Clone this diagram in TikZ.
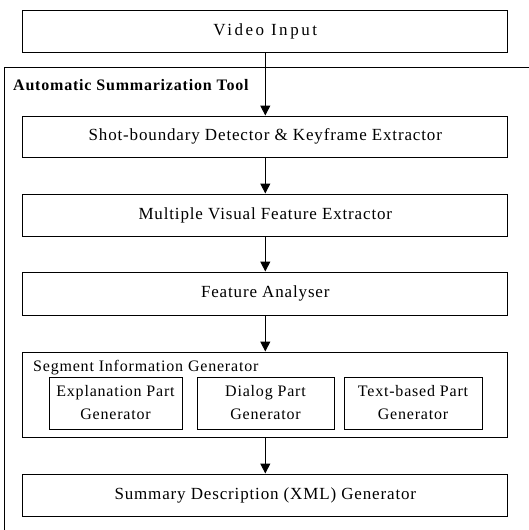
\documentclass[tikz,border=0pt]{standalone}
\usepackage{fontspec}
\setmainfont{Liberation Serif}[LetterSpace=5]
\usetikzlibrary{arrows.meta}
\begin{document}
\begin{tikzpicture}[x=1pt,y=-1pt,
  box/.style={draw,line width=1pt,rectangle,inner sep=0pt,minimum width=485pt,font=\fontsize{17}{19}\selectfont},
  part/.style={draw,line width=1pt,rectangle,inner sep=0pt,minimum height=52pt,align=center,font=\fontsize{16}{23}\selectfont},
  flow/.style={line width=1pt,-{Triangle[length=10pt,width=10pt]}},
  lbl/.style={anchor=west,inner sep=0pt,font=\fontsize{16}{18}\selectfont}]
\useasboundingbox (0,0) rectangle (528,530);
% outer frame (cut by picture edge)
\draw[line width=1pt] (529,67) -- (4,67) -- (4,531);
\node[lbl,font=\fontsize{16}{18}\selectfont\bfseries] (tool) at (13,85) {Automatic Summarization Tool};
\node[box,minimum height=42pt,font=\fontsize{17}{19}\selectfont\addfontfeature{LetterSpace=15}] (video) at (265.3,31) {Video Input};
\node[box,minimum height=41pt] (shot) at (265.3,136.5) {Shot-boundary Detector \& Keyframe Extractor};
\node[box,minimum height=42pt] (mvf) at (265.3,215) {Multiple Visual Feature Extractor};
\node[box,minimum height=43pt] (fa) at (265.3,293.5) {Feature Analyser};
\node[box,minimum height=85pt] (seg) at (265.3,394.5) {};
\node[lbl] (segl) at (33,368) {Segment Information Generator};
\node[part,minimum width=133pt] (expl) at (115.5,403) {Explanation Part\\Generator};
\node[part,minimum width=137pt] (dial) at (265.5,403) {Dialog Part\\Generator};
\node[part,minimum width=138pt] (text) at (413,403) {Text-based Part\\Generator};
\node[box,minimum height=42pt] (summ) at (265.3,495) {Summary Description (XML) Generator};
\draw[flow] (video.south) -- (shot.north);
\draw[flow] (shot.south) -- (mvf.north);
\draw[flow] (mvf.south) -- (fa.north);
\draw[flow] (fa.south) -- (seg.north);
\draw[flow] (seg.south) -- (summ.north);
\end{tikzpicture}
\end{document}
